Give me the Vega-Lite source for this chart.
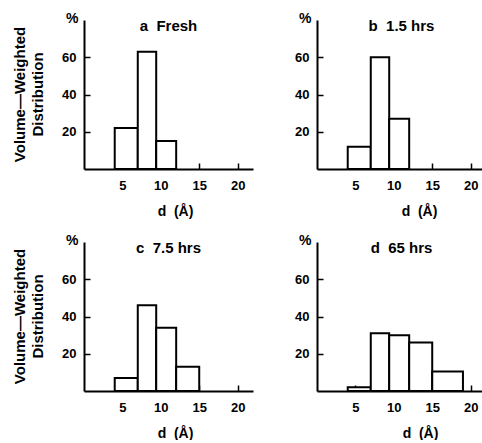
{
  "$schema": "https://vega.github.io/schema/vega-lite/v6.json",
  "padding": {"left": 12, "top": 11, "right": 0, "bottom": 0},
  "background": "white",
  "config": {
    "font": "Liberation Sans",
    "view": {"stroke": null},
    "axis": {
      "grid": false,
      "domainColor": "black", "domainWidth": 2,
      "tickColor": "black", "tickWidth": 1.5, "tickSize": -6,
      "labelColor": "black", "labelFont": "Liberation Sans", "labelFontWeight": "bold", "labelFontSize": 13,
      "titleColor": "black", "titleFont": "Liberation Sans", "titleFontWeight": "bold", "titleFontSize": 14
    },
    "title": {"color": "black", "font": "Liberation Sans", "fontWeight": "bold", "fontSize": 15}
  },
  "datasets": {
    "h": [
      {"panel": "a", "x0": 4, "x1": 7, "pct": 22},
      {"panel": "a", "x0": 7, "x1": 9.4, "pct": 63},
      {"panel": "a", "x0": 9.4, "x1": 12, "pct": 15},
      {"panel": "b", "x0": 4, "x1": 7, "pct": 12},
      {"panel": "b", "x0": 7, "x1": 9.4, "pct": 60},
      {"panel": "b", "x0": 9.4, "x1": 12, "pct": 27},
      {"panel": "c", "x0": 4, "x1": 7, "pct": 7},
      {"panel": "c", "x0": 7, "x1": 9.4, "pct": 46},
      {"panel": "c", "x0": 9.4, "x1": 12, "pct": 34},
      {"panel": "c", "x0": 12, "x1": 15, "pct": 13},
      {"panel": "d", "x0": 4, "x1": 7, "pct": 2},
      {"panel": "d", "x0": 7, "x1": 9.4, "pct": 31},
      {"panel": "d", "x0": 9.4, "x1": 12, "pct": 30},
      {"panel": "d", "x0": 12, "x1": 15, "pct": 26},
      {"panel": "d", "x0": 15, "x1": 19, "pct": 10.5}
    ]
  },
  "spacing": 15,
  "vconcat": [
    {
      "spacing": 41,
      "title": {"text": ["Volume—Weighted", "Distribution"], "orient": "left", "anchor": "middle", "offset": 16, "dx": 20, "fontSize": 15, "lineHeight": 18},
      "hconcat": [
        {
          "width": 169, "height": 149,
          "title": {"text": "a\u00a0\u00a0Fresh", "offset": 0, "dy": 35, "baseline": "alphabetic"},
          "data": {"name": "h"},
          "transform": [{"filter": "datum.panel === 'a'"}],
          "mark": {"type": "rect", "fill": "white", "stroke": "black", "strokeWidth": 2},
          "encoding": {
            "x": {"field": "x0", "type": "quantitative", "scale": {"domain": [0, 22], "nice": false},
                  "axis": {"values": [5, 10, 15, 20], "title": "d\u00a0\u00a0(Å)", "titleX": 91, "titleY": 42, "titleBaseline": "middle", "labelPadding": 16}},
            "x2": {"field": "x1"},
            "y": {"field": "pct", "type": "quantitative", "scale": {"domain": [0, 80], "nice": false},
                  "axis": {"values": [20, 40, 60], "title": "%", "titleAngle": 0, "titleX": -6, "titleY": -2, "titleAlign": "right", "titleBaseline": "middle", "labelPadding": 14}},
            "y2": {"datum": 0}
          }
        },
        {
          "width": 169, "height": 149,
          "title": {"text": "b\u00a0\u00a01.5 hrs", "offset": 0, "dy": 35, "baseline": "alphabetic"},
          "data": {"name": "h"},
          "transform": [{"filter": "datum.panel === 'b'"}],
          "mark": {"type": "rect", "fill": "white", "stroke": "black", "strokeWidth": 2},
          "encoding": {
            "x": {"field": "x0", "type": "quantitative", "scale": {"domain": [0, 22], "nice": false},
                  "axis": {"values": [5, 10, 15, 20], "title": "d\u00a0\u00a0(Å)", "titleX": 102, "titleY": 42, "titleBaseline": "middle", "labelPadding": 16}},
            "x2": {"field": "x1"},
            "y": {"field": "pct", "type": "quantitative", "scale": {"domain": [0, 80], "nice": false},
                  "axis": {"values": [20, 40, 60], "title": "%", "titleAngle": 0, "titleX": -6, "titleY": -2, "titleAlign": "right", "titleBaseline": "middle", "labelPadding": 14}},
            "y2": {"datum": 0}
          }
        }
      ]
    },
    {
      "spacing": 41,
      "title": {"text": ["Volume—Weighted", "Distribution"], "orient": "left", "anchor": "middle", "offset": 16, "dx": 20, "fontSize": 15, "lineHeight": 18},
      "hconcat": [
        {
          "width": 169, "height": 149,
          "title": {"text": "c\u00a0\u00a07.5 hrs", "offset": 0, "dy": 35, "baseline": "alphabetic"},
          "data": {"name": "h"},
          "transform": [{"filter": "datum.panel === 'c'"}],
          "mark": {"type": "rect", "fill": "white", "stroke": "black", "strokeWidth": 2},
          "encoding": {
            "x": {"field": "x0", "type": "quantitative", "scale": {"domain": [0, 22], "nice": false},
                  "axis": {"values": [5, 10, 15, 20], "title": "d\u00a0\u00a0(Å)", "titleX": 91, "titleY": 42, "titleBaseline": "middle", "labelPadding": 16}},
            "x2": {"field": "x1"},
            "y": {"field": "pct", "type": "quantitative", "scale": {"domain": [0, 80], "nice": false},
                  "axis": {"values": [20, 40, 60], "title": "%", "titleAngle": 0, "titleX": -6, "titleY": -2, "titleAlign": "right", "titleBaseline": "middle", "labelPadding": 14}},
            "y2": {"datum": 0}
          }
        },
        {
          "width": 169, "height": 149,
          "title": {"text": "d\u00a0\u00a065 hrs", "offset": 0, "dy": 35, "baseline": "alphabetic"},
          "data": {"name": "h"},
          "transform": [{"filter": "datum.panel === 'd'"}],
          "mark": {"type": "rect", "fill": "white", "stroke": "black", "strokeWidth": 2},
          "encoding": {
            "x": {"field": "x0", "type": "quantitative", "scale": {"domain": [0, 22], "nice": false},
                  "axis": {"values": [5, 10, 15, 20], "title": "d\u00a0\u00a0(Å)", "titleX": 103, "titleY": 42, "titleBaseline": "middle", "labelPadding": 16}},
            "x2": {"field": "x1"},
            "y": {"field": "pct", "type": "quantitative", "scale": {"domain": [0, 80], "nice": false},
                  "axis": {"values": [20, 40, 60], "title": "%", "titleAngle": 0, "titleX": -6, "titleY": -2, "titleAlign": "right", "titleBaseline": "middle", "labelPadding": 14}},
            "y2": {"datum": 0}
          }
        }
      ]
    }
  ]
}
